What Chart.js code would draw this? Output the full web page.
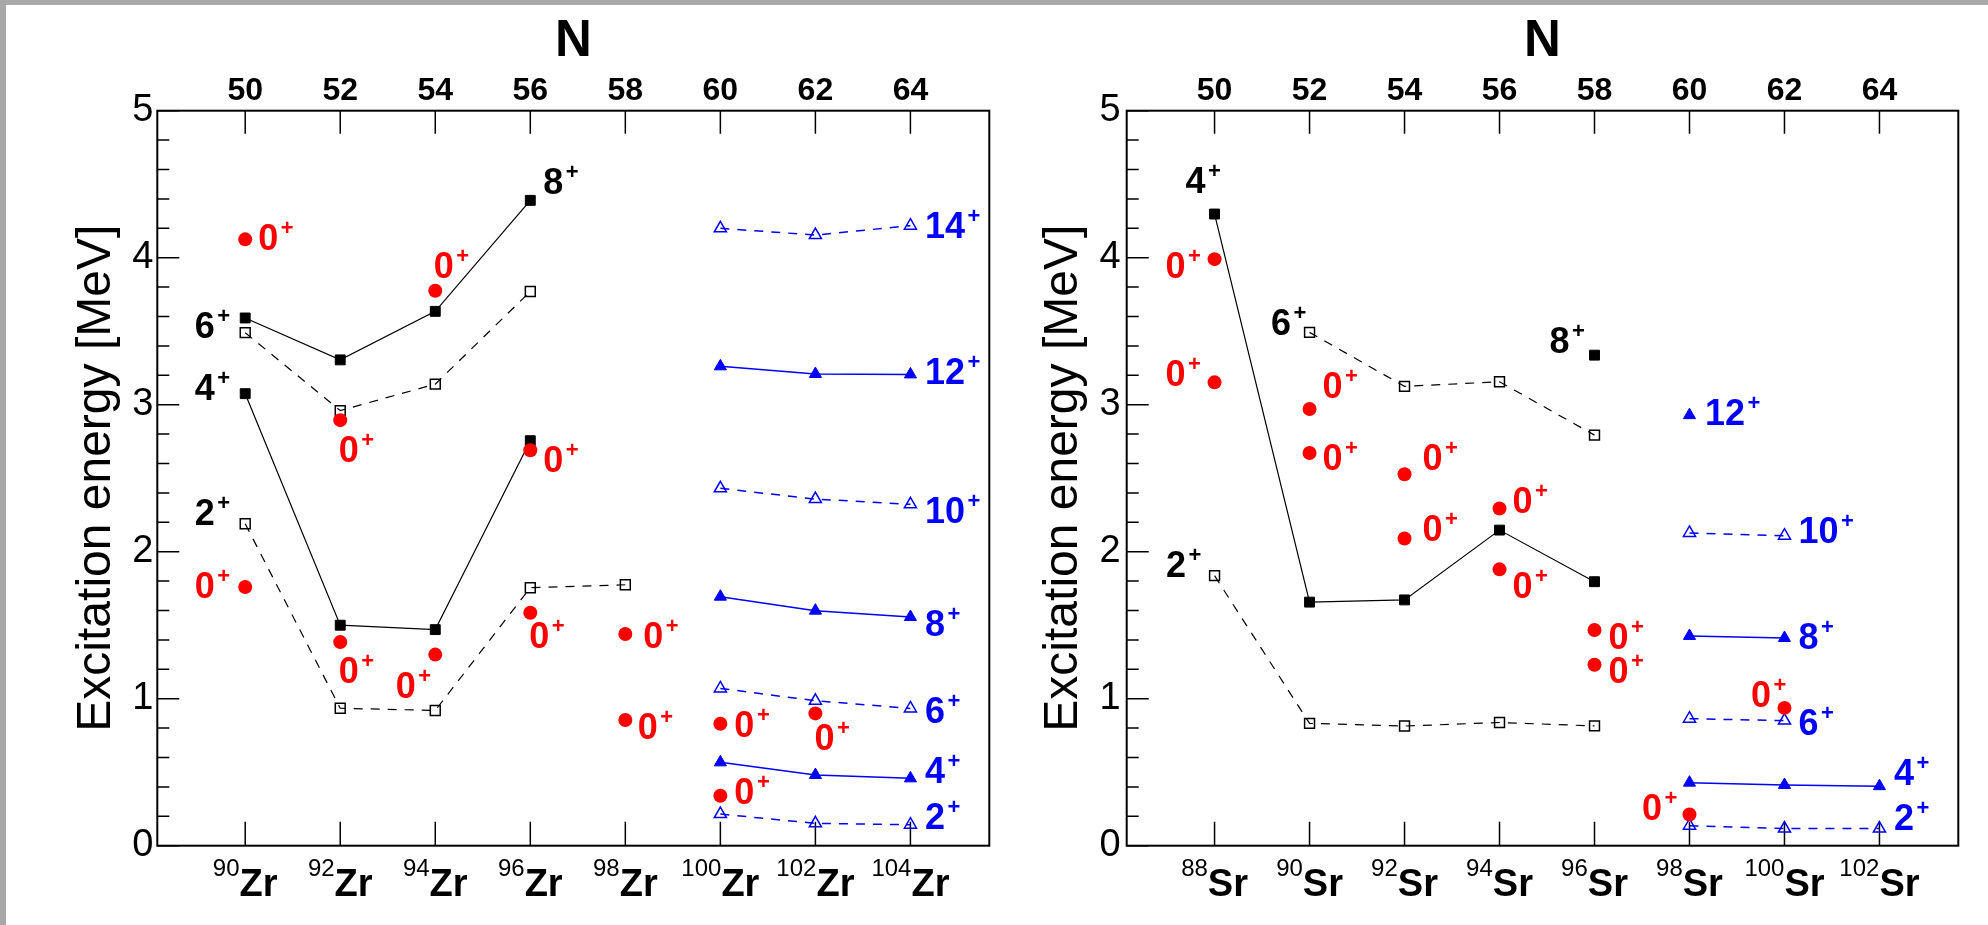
<!DOCTYPE html>
<html><head><meta charset="utf-8">
<script src="https://cdn.jsdelivr.net/npm/chart.js@4"></script>
<style>
html,body{margin:0;padding:0;background:#fff;width:1988px;height:925px;overflow:hidden;position:relative}
#gt{position:absolute;left:0;top:0;width:1988px;height:5px;background:#a8a8a8;z-index:5}
#gl{position:absolute;left:0;top:0;width:6px;height:925px;background:#a8a8a8;z-index:5}
#c1{position:absolute;left:0;top:0}
#c2{position:absolute;left:1000px;top:0}
</style></head><body>
<div id="gt"></div><div id="gl"></div>
<canvas id="c1" width="1000" height="925"></canvas>
<canvas id="c2" width="988" height="925"></canvas>
<script>
// ---------- data ----------
const nTicks = [50, 52, 54, 56, 58, 60, 62, 64];
const zrMass = [90, 92, 94, 96, 98, 100, 102, 104];
const srMass = [88, 90, 92, 94, 96, 98, 100, 102];
const energyTicks = [0, 1, 2, 3, 4, 5];

// Zr panel
const zrLowN = [50, 52, 54, 56, 58];
const zrLowOpenE = [2.19, 0.935, 0.92, 1.755, 1.775];
const zrMidN = [50, 52, 54, 56];
const zrMidFilledE = [3.075, 1.50, 1.47, 2.755];
const zrHighOpenE = [3.49, 2.96, 3.14, 3.77];
const zrHighFilledE = [3.59, 3.305, 3.635, 4.39];
const zrZeroN = [50, 50, 52, 52, 54, 54, 56, 56, 58, 58, 60, 60, 62];
const zrZeroE = [4.125, 1.76, 2.895, 1.385, 3.775, 1.30, 2.69, 1.585, 1.44, 0.855, 0.83, 0.34, 0.90];
const zrBandN = [60, 62, 64];
const zrBand2 = [0.215, 0.152, 0.143];
const zrBand4 = [0.567, 0.481, 0.458];
const zrBand6 = [1.07, 0.986, 0.934];
const zrBand8 = [1.694, 1.599, 1.556];
const zrBand10 = [2.431, 2.358, 2.322];
const zrBand12 = [3.261, 3.209, 3.206];
const zrBand14 = [4.20, 4.154, 4.218];

// Sr panel
const srLowN = [50, 52, 54, 56, 58];
const srLowOpenE = [1.837, 0.832, 0.814, 0.838, 0.815];
const srMidFilledE = [4.297, 1.657, 1.672, 2.147, 1.796];
const srHighN = [52, 54, 56, 58];
const srHighOpenE = [3.492, 3.125, 3.156, 2.793];
const srTopN = [58];
const srTopFilledE = [3.337];
const srZeroN = [50, 50, 52, 52, 54, 54, 56, 56, 58, 58, 60, 62];
const srZeroE = [3.99, 3.152, 2.971, 2.671, 2.527, 2.09, 2.294, 1.88, 1.467, 1.231, 0.212, 0.9375];
const srBandN3 = [60, 62, 64];
const srBandN2 = [60, 62];
const srBandN1 = [60];
const srBand2 = [0.136, 0.117, 0.117];
const srBand4 = [0.429, 0.413, 0.405];
const srBand6 = [0.864, 0.851];
const srBand8 = [1.427, 1.413];
const srBand10 = [2.128, 2.109];
const srBand12 = [2.929];

// level labels: [N, E, spin, color-key, dx, dy] (offsets in px from the point)
const zrLabels = [
  [50, 4.125, '0', 'r', 13, 11], [56, 4.39, '8', 'k', 13, -6], [54, 3.775, '0', 'r', -1.5, -13],
  [50, 3.59, '6', 'k', -50.5, 20], [50, 3.075, '4', 'k', -50.5, 6], [52, 2.895, '0', 'r', -1.5, 42],
  [56, 2.69, '0', 'r', 13, 22], [50, 2.19, '2', 'k', -50.5, 1], [50, 1.76, '0', 'r', -50.5, 11],
  [52, 1.385, '0', 'r', -1.5, 41], [54, 1.30, '0', 'r', -39.5, 43], [56, 1.585, '0', 'r', -1, 35],
  [58, 1.44, '0', 'r', 18, 14], [58, 0.855, '0', 'r', 12.5, 19], [60, 0.83, '0', 'r', 14, 13],
  [62, 0.90, '0', 'r', -1, 37], [60, 0.34, '0', 'r', 14, 8],
  [64, 4.218, '14', 'b', 14.5, 12], [64, 3.206, '12', 'b', 14.5, 10], [64, 2.322, '10', 'b', 14.5, 19],
  [64, 1.556, '8', 'b', 14.5, 19], [64, 0.934, '6', 'b', 14.5, 15], [64, 0.458, '4', 'b', 14.5, 5],
  [64, 0.143, '2', 'b', 14.5, 4]
];
const srLabels = [
  [50, 4.297, '4', 'k', -29, -21], [50, 3.99, '0', 'r', -49, 19], [50, 3.152, '0', 'r', -49, 4],
  [52, 3.492, '6', 'k', -38.5, 3], [52, 2.971, '0', 'r', 13, -11], [52, 2.671, '0', 'r', 13, 17],
  [54, 2.527, '0', 'r', 18, -4], [58, 3.337, '8', 'k', -45, -2], [54, 2.09, '0', 'r', 18, 3],
  [56, 2.294, '0', 'r', 13, 5], [56, 1.88, '0', 'r', 13, 29], [50, 1.837, '2', 'k', -48.5, 1],
  [58, 1.467, '0', 'r', 14, 19], [58, 1.231, '0', 'r', 14, 18],
  [60, 2.929, '12', 'b', 15.5, 10], [62, 2.109, '10', 'b', 14, 7], [62, 1.413, '8', 'b', 14, 11],
  [62, 0.851, '6', 'b', 14, 14], [62, 0.9375, '0', 'r', -33.5, -1], [64, 0.405, '4', 'b', 14.5, -1],
  [64, 0.117, '2', 'b', 14.5, 1], [60, 0.212, '0', 'r', -47.5, 5]
];

// ---------- styling / helpers ----------
const FONT = '"Liberation Sans", Arial, Helvetica, sans-serif';
const COL = { r: '#ff0000', k: '#000000', b: '#0000ff' };
const N_MIN = 48.15, N_MAX = 65.66;

function pts(ns, es) { return ns.map((n, i) => ({ x: n, y: es[i] })); }
function lineSet(ns, es, color, filled, dashed, style) {
  const blue = color === COL.b;
  return {
    data: pts(ns, es), borderColor: color, borderWidth: blue ? 1.5 : 1.2,
    borderDash: dashed ? [9, 8] : [], showLine: true, fill: false, tension: 0,
    pointStyle: style, pointRadius: 7,
    pointBackgroundColor: filled ? color : 'rgba(0,0,0,0)', pointBorderColor: color,
    pointBorderWidth: filled ? 1 : 1.5, xAxisID: 'x', yAxisID: 'y'
  };
}
function dotSet(ns, es) {
  return {
    data: pts(ns, es), showLine: false, pointStyle: 'circle', pointRadius: 7,
    pointBackgroundColor: COL.r, pointBorderColor: COL.r, pointBorderWidth: 0,
    borderColor: COL.r, xAxisID: 'x', yAxisID: 'y'
  };
}

const decor = {
  id: 'decor',
  beforeDatasetsDraw(chart, args, o) {
    const { ctx, chartArea: a, scales: { x, y } } = chart;
    ctx.save();
    ctx.strokeStyle = '#000'; ctx.lineWidth = 1.5;
    ctx.beginPath();
    for (let i = 0; i < energyTicks.length; i++) {
      const v = energyTicks[i];
      const yy = y.getPixelForValue(v);
      ctx.moveTo(a.left, yy); ctx.lineTo(a.left + 22, yy);
      if (i < energyTicks.length - 1) {
        for (let k = 1; k < 5; k++) {
          const ym = y.getPixelForValue(v + k * (energyTicks[i + 1] - v) / 5);
          ctx.moveTo(a.left, ym); ctx.lineTo(a.left + 12, ym);
        }
      }
    }
    nTicks.forEach(n => {
      const xx = x.getPixelForValue(n);
      ctx.moveTo(xx, a.top); ctx.lineTo(xx, a.top + 23);
      ctx.moveTo(xx, a.bottom); ctx.lineTo(xx, a.bottom - 24);
    });
    ctx.stroke();
    ctx.lineWidth = 2;
    ctx.strokeRect(a.left, a.top, a.right - a.left, a.bottom - a.top);
    ctx.restore();
  },
  afterDraw(chart, args, o) {
    const { ctx, chartArea: a, scales: { x, y } } = chart;
    ctx.save();
    ctx.textAlign = 'left'; ctx.textBaseline = 'alphabetic';
    // isotope labels on the bottom axis
    nTicks.forEach((n, i) => {
      const xx = x.getPixelForValue(n);
      const m = String(o.mass[i]);
      ctx.font = '24px ' + FONT; const w1 = ctx.measureText(m).width;
      ctx.font = 'bold 38px ' + FONT; const w2 = ctx.measureText(o.symbol).width;
      const x0 = xx - (w1 + w2) / 2;
      ctx.fillStyle = '#000';
      ctx.font = '24px ' + FONT; ctx.fillText(m, x0, a.bottom + 30.5);
      ctx.font = 'bold 38px ' + FONT; ctx.fillText(o.symbol, x0 + w1, a.bottom + 50.5);
    });
    // level spin labels
    o.labels.forEach(L => {
      const px = x.getPixelForValue(L[0]) + L[4];
      const py = y.getPixelForValue(L[1]) + L[5];
      ctx.fillStyle = COL[L[3]];
      ctx.font = 'bold 36px ' + FONT;
      const w = ctx.measureText(L[2]).width;
      ctx.fillText(L[2], px, py);
      ctx.font = 'bold 22px ' + FONT;
      ctx.fillText('+', px + w + 2.5, py - 15);
    });
    ctx.restore();
  }
};

function makeChart(id, datasets, cfg) {
  return new Chart(document.getElementById(id), {
    type: 'line',
    data: { datasets },
    plugins: [decor],
    options: {
      responsive: false, animation: false, events: [],
      layout: { padding: { top: 0, left: 0, bottom: 0, right: cfg.padRight } },
      plugins: {
        legend: { display: false }, tooltip: { enabled: false },
        decor: { labels: cfg.labels, mass: cfg.mass, symbol: cfg.symbol }
      },
      scales: {
        x: {
          type: 'linear', position: 'bottom', min: N_MIN, max: N_MAX,
          ticks: { display: false }, grid: { display: false }, border: { display: false },
          afterFit(s) { s.height = 79.3; }
        },
        xTop: {
          type: 'linear', position: 'top', min: N_MIN, max: N_MAX,
          afterBuildTicks(s) { s.ticks = nTicks.map(v => ({ value: v })); },
          ticks: { autoSkip: false, maxRotation: 0, color: '#000', padding: 3.4,
                   font: { family: FONT, size: 32, weight: 'bold', lineHeight: 1 } },
          grid: { display: false, drawTicks: false }, border: { display: false },
          title: { display: true, text: 'N', color: '#000', padding: { top: 16, bottom: 0 },
                   font: { family: FONT, size: 51, weight: 'bold', lineHeight: 1 } },
          afterFit(s) { s.height = 110.7; }
        },
        y: {
          type: 'linear', position: 'left', min: 0, max: 5,
          afterBuildTicks(s) { s.ticks = energyTicks.map(v => ({ value: v })); },
          ticks: { color: '#000', padding: cfg.tickPad, font: { family: FONT, size: 38, lineHeight: 1 } },
          grid: { display: false, drawTicks: false }, border: { display: false },
          title: { display: true, text: 'Excitation energy [MeV]', color: '#000',
                   padding: { top: cfg.titlePad, bottom: 0 },
                   font: { family: FONT, size: 48, lineHeight: 1 } },
          afterFit(s) { s.width = cfg.yWidth; }
        }
      }
    }
  });
}

makeChart('c1', [
  dotSet(zrZeroN, zrZeroE),
  lineSet(zrLowN, zrLowOpenE, COL.k, false, true, 'rect'),
  lineSet(zrMidN, zrMidFilledE, COL.k, true, false, 'rect'),
  lineSet(zrMidN, zrHighOpenE, COL.k, false, true, 'rect'),
  lineSet(zrMidN, zrHighFilledE, COL.k, true, false, 'rect'),
  lineSet(zrBandN, zrBand2, COL.b, false, true, 'triangle'),
  lineSet(zrBandN, zrBand4, COL.b, true, false, 'triangle'),
  lineSet(zrBandN, zrBand6, COL.b, false, true, 'triangle'),
  lineSet(zrBandN, zrBand8, COL.b, true, false, 'triangle'),
  lineSet(zrBandN, zrBand10, COL.b, false, true, 'triangle'),
  lineSet(zrBandN, zrBand12, COL.b, true, false, 'triangle'),
  lineSet(zrBandN, zrBand14, COL.b, false, true, 'triangle')
], { padRight: 10.7, yWidth: 157.3, tickPad: 4, titlePad: 73, labels: zrLabels, mass: zrMass, symbol: 'Zr' });

makeChart('c2', [
  dotSet(srZeroN, srZeroE),
  lineSet(srLowN, srLowOpenE, COL.k, false, true, 'rect'),
  lineSet(srLowN, srMidFilledE, COL.k, true, false, 'rect'),
  lineSet(srHighN, srHighOpenE, COL.k, false, true, 'rect'),
  lineSet(srTopN, srTopFilledE, COL.k, true, false, 'rect'),
  lineSet(srBandN3, srBand2, COL.b, false, true, 'triangle'),
  lineSet(srBandN3, srBand4, COL.b, true, false, 'triangle'),
  lineSet(srBandN2, srBand6, COL.b, false, true, 'triangle'),
  lineSet(srBandN2, srBand8, COL.b, true, false, 'triangle'),
  lineSet(srBandN2, srBand10, COL.b, false, true, 'triangle'),
  lineSet(srBandN1, srBand12, COL.b, true, false, 'triangle')
], { padRight: 29.7, yWidth: 126.7, tickPad: 6, titlePad: 39.4, labels: srLabels, mass: srMass, symbol: 'Sr' });
</script>
</body></html>
